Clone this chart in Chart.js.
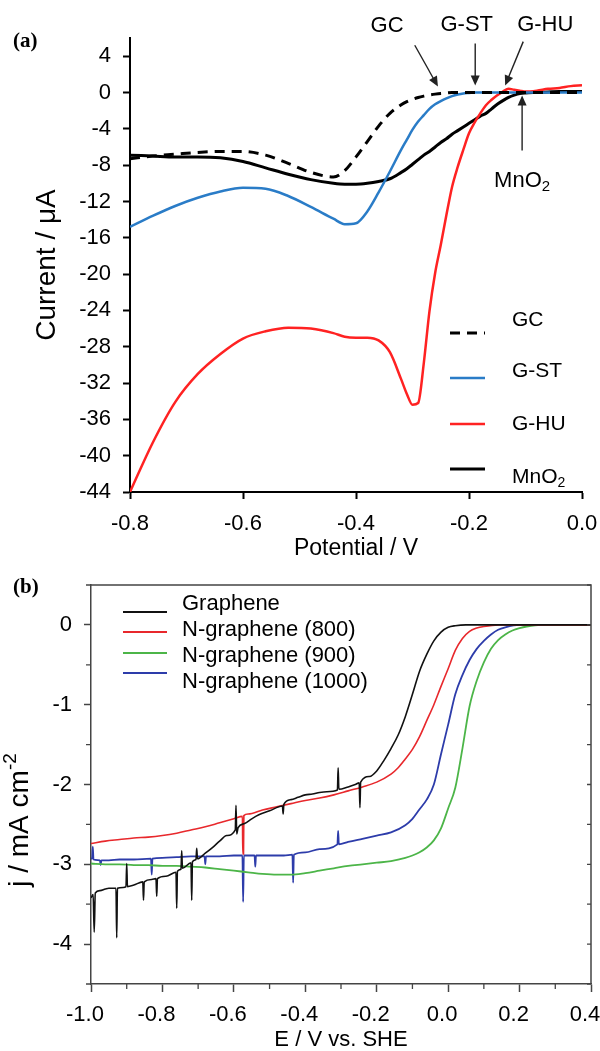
<!DOCTYPE html>
<html>
<head>
<meta charset="utf-8">
<script src="https://cdn.jsdelivr.net/npm/chart.js@4.4.1/dist/chart.umd.min.js"></script>
<style>
html, body { margin: 0; padding: 0; background: #fff; }
#wrap { position: relative; width: 600px; height: 1051px; overflow: hidden; }
canvas { position: absolute; left: 0; }
#chartA { top: 0; width: 600px; height: 570px; }
#chartB { top: 570px; width: 600px; height: 481px; }
.panel { position: absolute; font: bold 21px "Liberation Serif", "Times New Roman", serif; line-height: 1; }
</style>
</head>
<body>
<div id="wrap">
  <canvas id="chartA" width="600" height="570"></canvas>
  <canvas id="chartB" width="600" height="481"></canvas>
  <div class="panel" style="left:13px;top:30px">(a)</div>
  <div class="panel" style="left:13px;top:576px">(b)</div>
</div>
<script>
const FONT = '"Liberation Sans", Arial, sans-serif';

// =========================
// PANEL (a) DATA
// =========================
const potA = [-0.80, -0.76, -0.72, -0.68, -0.64, -0.60, -0.56, -0.52, -0.48, -0.44, -0.42, -0.40,
  -0.38, -0.36, -0.34, -0.32, -0.31, -0.30, -0.29, -0.28, -0.27, -0.26, -0.25, -0.24, -0.23,
  -0.22, -0.21, -0.20, -0.19, -0.18, -0.17, -0.16, -0.15, -0.14, -0.13, -0.12, -0.11, -0.10,
  -0.08, -0.06, -0.04, -0.02, 0.00];
const gcA = [-7.3, -7.0, -6.8, -6.6, -6.5, -6.5, -6.9, -7.8, -8.8, -9.3, -8.6, -7.1,
  -5.4, -3.7, -2.3, -1.35, -1.0, -0.75, -0.55, -0.4, -0.28, -0.18, -0.1, -0.05, 0,
  0, 0, 0, 0, 0, 0, 0, 0, 0, 0, 0, 0, 0,
  0, 0, 0, 0, 0];
const stA = [-14.8, -13.6, -12.5, -11.6, -10.9, -10.5, -10.6, -11.4, -12.6, -13.9, -14.5, -14.4,
  -13.1, -11.0, -8.7, -6.3, -5.2, -4.1, -3.2, -2.5, -1.8, -1.3, -0.95, -0.65, -0.4,
  -0.22, -0.1, -0.05, 0, 0, 0, 0, 0, 0, 0, 0, 0, 0,
  0, 0, 0, 0, 0];
const huA = [-44.0, -38.6, -34.1, -31.0, -28.8, -27.1, -26.3, -25.9, -26.0, -26.5, -26.9, -27.0,
  -27.0, -27.3, -28.6, -31.6, -33.2, -34.4, -34.2, -29.8, -24.1, -19.9, -16.8, -13.5, -10.4,
  -8.2, -6.3, -4.5, -3.3, -2.3, -1.4, -0.8, -0.3, 0.1, 0.4, 0.3, 0.2, 0.1,
  0.2, 0.4, 0.5, 0.7, 0.8];
const mnA = [-6.9, -7.0, -7.1, -7.1, -7.2, -7.6, -8.3, -9.0, -9.6, -10.0, -10.1, -10.1,
  -10.0, -9.8, -9.5, -8.8, -8.4, -7.9, -7.4, -6.9, -6.5, -6.0, -5.5, -5.1, -4.6,
  -4.2, -3.8, -3.4, -3.0, -2.6, -2.3, -1.8, -1.3, -0.9, -0.55, -0.3, -0.12, -0.05,
  0, 0.05, 0.1, 0.1, 0.1];
const xTicksA = [-0.8, -0.6, -0.4, -0.2, 0.0];
const yTicksA = [4, 0, -4, -8, -12, -16, -20, -24, -28, -32, -36, -40, -44];

// callouts in data units (potential, current)
const calloutsA = [
  { text: 'GC',   label: [-0.345, 7.3], tail: [-0.296, 5.2],  tip: [-0.255, 0.66] },
  { text: 'G-ST', label: [-0.204, 7.4], tail: [-0.189, 5.4],  tip: [-0.189, 0.77] },
  { text: 'G-HU', label: [-0.065, 7.4], tail: [-0.104, 5.6],  tip: [-0.136, 0.77] },
  { text: 'MnO2', label: [-0.106, -9.7], tail: [-0.106, -6.4], tip: [-0.106, -0.33] }
];

// =========================
// PANEL (b) DATA
// =========================
const grapheneE = [-1.000, -0.994, -0.991, -0.988, -0.975, -0.960, -0.950, -0.930, -0.928, -0.926,
  -0.910, -0.902, -0.900, -0.898, -0.880, -0.855, -0.853, -0.851, -0.830, -0.818, -0.816, -0.814,
  -0.790, -0.762, -0.760, -0.758, -0.748, -0.746, -0.744, -0.720, -0.718, -0.716, -0.706, -0.704,
  -0.702, -0.680, -0.660, -0.640, -0.620, -0.596, -0.594, -0.592, -0.588, -0.570, -0.550, -0.530,
  -0.500, -0.464, -0.462, -0.460, -0.440, -0.420, -0.400, -0.380, -0.360, -0.340, -0.310, -0.308,
  -0.306, -0.280, -0.260, -0.249, -0.247, -0.245, -0.220, -0.200, -0.180, -0.160, -0.140, -0.120,
  -0.100, -0.080, -0.060, -0.040, -0.020, 0.000, 0.020, 0.050, 0.400];
const grapheneJ = [-3.42, -3.38, -3.85, -3.36, -3.33, -3.31, -3.30, -3.30, -3.92, -3.30,
  -3.29, -3.28, -2.99, -3.28, -3.26, -3.22, -3.45, -3.22, -3.19, -3.18, -3.40, -3.18,
  -3.15, -3.10, -3.55, -3.09, -3.06, -2.83, -3.05, -2.98, -3.45, -2.97, -2.94, -2.80,
  -2.93, -2.86, -2.79, -2.71, -2.64, -2.57, -2.26, -2.62, -2.54, -2.49, -2.43, -2.38,
  -2.33, -2.27, -2.37, -2.25, -2.19, -2.16, -2.13, -2.12, -2.10, -2.09, -2.07, -1.79,
  -2.06, -2.03, -2.00, -1.98, -2.29, -1.97, -1.90, -1.83, -1.70, -1.55, -1.38, -1.15,
  -0.87, -0.58, -0.37, -0.20, -0.09, -0.03, -0.01, 0.00, 0.00];

const n800E = [-1.00, -0.96, -0.92, -0.88, -0.84, -0.80, -0.76, -0.72, -0.68, -0.64, -0.60,
  -0.576, -0.575, -0.573, -0.572, -0.56, -0.52, -0.48, -0.44, -0.40, -0.36, -0.32, -0.28,
  -0.24, -0.20, -0.16, -0.14, -0.12, -0.10, -0.08, -0.06, -0.04, -0.02, 0.00, 0.02, 0.04,
  0.06, 0.08, 0.10, 0.14, 0.40];
const n800J = [-2.74, -2.71, -2.69, -2.67, -2.66, -2.64, -2.61, -2.57, -2.53, -2.48, -2.43,
  -2.40, -2.87, -2.87, -2.39, -2.37, -2.32, -2.28, -2.24, -2.20, -2.17, -2.13, -2.08,
  -2.03, -1.97, -1.87, -1.79, -1.68, -1.56, -1.40, -1.20, -1.00, -0.77, -0.55, -0.32, -0.17,
  -0.08, -0.04, -0.02, 0.00, 0.00];

const n900E = [-1.00, -0.96, -0.92, -0.88, -0.84, -0.80, -0.76, -0.72, -0.68, -0.64, -0.60,
  -0.56, -0.52, -0.48, -0.44, -0.40, -0.36, -0.32, -0.28, -0.24, -0.20, -0.16, -0.12, -0.10,
  -0.08, -0.06, -0.04, -0.02, 0.00, 0.02, 0.04, 0.06, 0.08, 0.10, 0.12, 0.14, 0.16, 0.18,
  0.20, 0.22, 0.26, 0.40];
const n900J = [-2.99, -3.00, -3.00, -3.01, -3.01, -3.02, -3.02, -3.03, -3.04, -3.06, -3.08,
  -3.10, -3.12, -3.13, -3.13, -3.11, -3.08, -3.05, -3.02, -3.00, -2.98, -2.96, -2.92, -2.89,
  -2.85, -2.79, -2.70, -2.55, -2.30, -2.04, -1.55, -1.02, -0.70, -0.47, -0.30, -0.19, -0.12, -0.07,
  -0.04, -0.02, 0.00, 0.00];

const n1000E = [-1.000, -0.997, -0.995, -0.993, -0.975, -0.973, -0.971, -0.950, -0.920, -0.880,
  -0.832, -0.830, -0.828, -0.800, -0.760, -0.720, -0.682, -0.680, -0.678, -0.640, -0.600,
  -0.576, -0.574, -0.572, -0.542, -0.540, -0.538, -0.500, -0.460, -0.436, -0.434, -0.432,
  -0.400, -0.360, -0.310, -0.308, -0.306, -0.280, -0.240, -0.200, -0.160, -0.120, -0.100,
  -0.080, -0.060, -0.040, -0.020, 0.000, 0.020, 0.040, 0.060, 0.080, 0.100, 0.120, 0.140,
  0.160, 0.200, 0.400];
const n1000J = [-2.93, -2.93, -2.78, -2.94, -2.95, -3.01, -2.95, -2.95, -2.94, -2.94,
  -2.93, -3.13, -2.93, -2.92, -2.91, -2.90, -2.90, -3.00, -2.90, -2.90, -2.89,
  -2.89, -3.47, -2.89, -2.89, -3.03, -2.89, -2.89, -2.89, -2.88, -3.23, -2.88,
  -2.85, -2.81, -2.75, -2.58, -2.75, -2.72, -2.68, -2.64, -2.60, -2.51, -2.43,
  -2.31, -2.19, -2.00, -1.62, -1.25, -0.87, -0.63, -0.44, -0.30, -0.20, -0.12, -0.06,
  -0.03, 0.00, 0.00];

const xTicksB = [-1.0, -0.8, -0.6, -0.4, -0.2, 0.0, 0.2, 0.4];
const xMinorB = [-0.9, -0.7, -0.5, -0.3, -0.1, 0.1, 0.3];
const yTicksB = [0, -1, -2, -3, -4];
const yMinorB = [0.5, -0.5, -1.5, -2.5, -3.5, -4.5];

// =========================
// HELPERS
// =========================
function pts(xs, ys) {
  return xs.map((x, i) => ({ x: x, y: ys[i] }));
}

// fixed axis box, no extra room for overhanging labels
function fixBox(w, h) {
  return s => {
    if (w) s.width = w;
    if (h) s.height = h;
    s.paddingLeft = s.paddingRight = s.paddingTop = s.paddingBottom = 0;
  };
}

// label with digits as subscripts (chemical formula)
function chemParts(label) {
  return label.split(/(\d+)/).filter(Boolean).map(t => ({ t: t, sub: /^\d+$/.test(t) }));
}

function drawRich(ctx, parts, x, y, size, align) {
  const small = Math.round(size * 0.68);
  const widths = parts.map(p => {
    ctx.font = `${p.sub || p.sup ? small : size}px ${FONT}`;
    return ctx.measureText(p.t).width;
  });
  const total = widths.reduce((a, b) => a + b, 0);
  let cx = align === 'center' ? x - total / 2 : x;
  ctx.textAlign = 'left';
  ctx.textBaseline = 'middle';
  parts.forEach((p, i) => {
    ctx.font = `${p.sub || p.sup ? small : size}px ${FONT}`;
    const dy = p.sub ? size * 0.3 : (p.sup ? -size * 0.33 : 0);
    ctx.fillText(p.t, cx, y + dy);
    cx += widths[i];
  });
}

function arrow(ctx, x0, y0, x1, y1) {
  const a = Math.atan2(y1 - y0, x1 - x0);
  const len = 10, half = 4.5;
  ctx.beginPath();
  ctx.moveTo(x0, y0);
  ctx.lineTo(x1 - Math.cos(a) * len * 0.8, y1 - Math.sin(a) * len * 0.8);
  ctx.stroke();
  ctx.beginPath();
  ctx.moveTo(x1, y1);
  ctx.lineTo(x1 - Math.cos(a) * len - Math.sin(a) * half, y1 - Math.sin(a) * len + Math.cos(a) * half);
  ctx.lineTo(x1 - Math.cos(a) * len + Math.sin(a) * half, y1 - Math.sin(a) * len - Math.cos(a) * half);
  ctx.closePath();
  ctx.fill();
}

const lineDefaults = { pointRadius: 0, fill: false, cubicInterpolationMode: 'monotone' };

// =========================
// PANEL (a) PLUGIN: legend + callouts
// =========================
const decorA = {
  id: 'decorA',
  afterDraw(chart) {
    const { ctx, chartArea: ca, scales: { x, y } } = chart;
    ctx.save();
    // legend
    const lineY = [295, 340, 386, 431];
    const textY = [282, 333, 386, 439];
    chart.data.datasets.forEach((ds, i) => {
      ctx.strokeStyle = ds.borderColor;
      ctx.lineWidth = ds.borderWidth;
      ctx.setLineDash(ds.borderDash || []);
      ctx.beginPath();
      ctx.moveTo(ca.left + 320, ca.top + lineY[i]);
      ctx.lineTo(ca.left + 355, ca.top + lineY[i]);
      ctx.stroke();
      ctx.fillStyle = '#000';
      drawRich(ctx, chemParts(ds.label), ca.left + 382, ca.top + textY[i], 21, 'left');
    });
    ctx.setLineDash([]);
    // callouts
    ctx.strokeStyle = '#222';
    ctx.lineWidth = 1.4;
    calloutsA.forEach(c => {
      ctx.fillStyle = '#222';
      arrow(ctx, x.getPixelForValue(c.tail[0]), y.getPixelForValue(c.tail[1]),
        x.getPixelForValue(c.tip[0]), y.getPixelForValue(c.tip[1]));
      ctx.fillStyle = '#000';
      drawRich(ctx, chemParts(c.text), x.getPixelForValue(c.label[0]), y.getPixelForValue(c.label[1]), 22, 'center');
    });
    ctx.restore();
  }
};

// =========================
// PANEL (a) CHART
// =========================
const axisA = {
  grid: { display: true, drawOnChartArea: false, drawTicks: true, tickLength: 7, tickWidth: 2, tickColor: '#000' },
  border: { display: true, color: '#000', width: 2 }
};

new Chart(document.getElementById('chartA'), {
  type: 'line',
  data: {
    datasets: [
      { label: 'GC', data: pts(potA, gcA), borderColor: '#000', borderWidth: 3, borderDash: [10, 7], ...lineDefaults },
      { label: 'G-ST', data: pts(potA, stA), borderColor: '#2a7cc7', borderWidth: 2.5, ...lineDefaults },
      { label: 'G-HU', data: pts(potA, huA), borderColor: '#ff2222', borderWidth: 2.5, ...lineDefaults },
      { label: 'MnO2', data: pts(potA, mnA), borderColor: '#000', borderWidth: 3, ...lineDefaults }
    ]
  },
  options: {
    responsive: false,
    animation: false,
    events: [],
    layout: { autoPadding: false, padding: { left: 0, right: 18, top: 38, bottom: 0 } },
    plugins: { legend: { display: false }, tooltip: { enabled: false } },
    scales: {
      x: {
        type: 'linear', min: -0.8, max: 0.0,
        afterBuildTicks: s => { s.ticks = xTicksA.map(v => ({ value: v })); },
        afterFit: fixBox(0, 78),
        ticks: { font: { family: FONT, size: 22 }, color: '#000', padding: 12, maxRotation: 0, autoSkip: false,
          callback: v => Number(v).toFixed(1) },
        ...axisA,
        title: { display: true, text: 'Potential / V', color: '#000',
          font: { family: FONT, size: 23, lineHeight: 1 }, padding: { top: 0, bottom: 10 } }
      },
      y: {
        type: 'linear', min: -44, max: 6,
        afterBuildTicks: s => { s.ticks = yTicksA.map(v => ({ value: v })); },
        afterFit: fixBox(130, 0),
        ticks: { font: { family: FONT, size: 22 }, color: '#000', padding: 12, autoSkip: false,
          callback: v => String(v) },
        ...axisA,
        title: { display: true, text: 'Current / μA', color: '#000',
          font: { family: FONT, size: 28, lineHeight: 1 }, padding: { top: 33, bottom: 0 } }
      }
    }
  },
  plugins: [decorA]
});

// =========================
// PANEL (b) PLUGIN: frame, minor ticks, legend, y title
// =========================
const AXIS_B = '#444';
const decorB = {
  id: 'decorB',
  afterDraw(chart) {
    const { ctx, chartArea: ca, scales: { x, y } } = chart;
    ctx.save();
    ctx.strokeStyle = AXIS_B;
    ctx.lineWidth = 1.5;
    ctx.beginPath();
    ctx.moveTo(ca.left, ca.top);
    ctx.lineTo(ca.right, ca.top);
    ctx.lineTo(ca.right, ca.bottom);
    ctx.stroke();

    ctx.lineWidth = 1.3;
    ctx.beginPath();
    xMinorB.forEach(v => {
      const px = x.getPixelForValue(v);
      ctx.moveTo(px, ca.bottom);
      ctx.lineTo(px, ca.bottom + 5);
    });
    yMinorB.forEach(v => {
      const py = y.getPixelForValue(v);
      ctx.moveTo(ca.left, py);
      ctx.lineTo(ca.left - 5, py);
    });
    yTicksB.concat(yMinorB).forEach(v => {
      const py = y.getPixelForValue(v);
      ctx.moveTo(ca.right, py);
      ctx.lineTo(ca.right - 4, py);
    });
    ctx.stroke();

    // legend
    const lineY = [27, 47, 68, 88];
    const textY = [19, 45, 71, 97];
    chart.data.datasets.forEach((ds, i) => {
      ctx.strokeStyle = ds.borderColor;
      ctx.lineWidth = 2;
      ctx.beginPath();
      ctx.moveTo(ca.left + 32, ca.top + lineY[i]);
      ctx.lineTo(ca.left + 76, ca.top + lineY[i]);
      ctx.stroke();
      ctx.fillStyle = '#000';
      drawRich(ctx, [{ t: ds.label }], ca.left + 91, ca.top + textY[i], 22, 'left');
    });

    // y title with superscript
    ctx.translate(ca.left - 71, ca.top + 235);
    ctx.rotate(-Math.PI / 2);
    ctx.fillStyle = '#000';
    drawRich(ctx, [{ t: 'j / mA cm' }, { t: '-2', sup: true }], 0, 0, 28, 'center');
    ctx.restore();
  }
};

// =========================
// PANEL (b) CHART
// =========================
new Chart(document.getElementById('chartB'), {
  type: 'line',
  data: {
    datasets: [
      { label: 'Graphene', data: pts(grapheneE, grapheneJ), borderColor: '#111', borderWidth: 1.6, ...lineDefaults },
      { label: 'N-graphene (800)', data: pts(n800E, n800J), borderColor: '#e8282c', borderWidth: 1.6, ...lineDefaults },
      { label: 'N-graphene (900)', data: pts(n900E, n900J), borderColor: '#4cb548', borderWidth: 1.8, ...lineDefaults },
      { label: 'N-graphene (1000)', data: pts(n1000E, n1000J), borderColor: '#2d3caa', borderWidth: 1.8, ...lineDefaults }
    ]
  },
  options: {
    responsive: false,
    animation: false,
    events: [],
    layout: { autoPadding: false, padding: { left: 0, right: 9, top: 15, bottom: 0 } },
    plugins: { legend: { display: false }, tooltip: { enabled: false } },
    scales: {
      x: {
        type: 'linear', min: -1.0, max: 0.4,
        afterBuildTicks: s => { s.ticks = xTicksB.map(v => ({ value: v })); },
        afterFit: fixBox(0, 67),
        ticks: { font: { family: FONT, size: 22 }, color: '#000', padding: 10, labelOffset: -6,
          maxRotation: 0, autoSkip: false, callback: v => Number(v).toFixed(1) },
        grid: { display: true, drawOnChartArea: false, drawTicks: true, tickLength: 8, tickWidth: 1.5, tickColor: AXIS_B },
        border: { display: true, color: AXIS_B, width: 1.5 },
        title: { display: true, text: 'E / V vs. SHE', color: '#000',
          font: { family: FONT, size: 22, lineHeight: 1 }, padding: { top: 0, bottom: 0 } }
      },
      y: {
        type: 'linear', min: -4.5, max: 0.5,
        afterBuildTicks: s => { s.ticks = yTicksB.map(v => ({ value: v })); },
        afterFit: fixBox(91, 0),
        ticks: { font: { family: FONT, size: 22 }, color: '#000', padding: 12, autoSkip: false,
          callback: v => String(v) },
        grid: { display: true, drawOnChartArea: false, drawTicks: true, tickLength: 7, tickWidth: 1.5, tickColor: AXIS_B },
        border: { display: true, color: AXIS_B, width: 1.5 },
        title: { display: false }
      }
    }
  },
  plugins: [decorB]
});
</script>
</body>
</html>
